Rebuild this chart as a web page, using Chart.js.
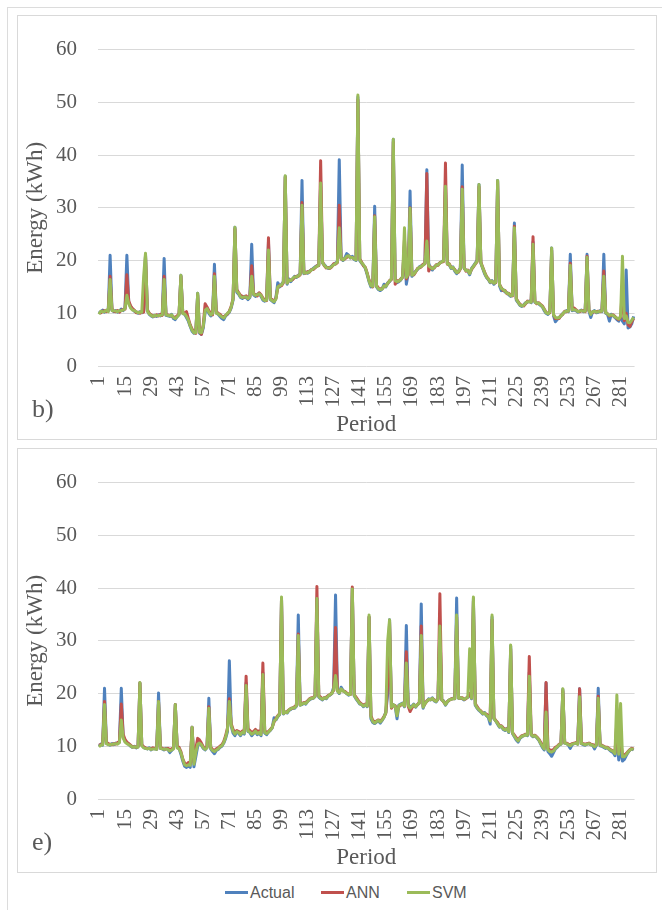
<!DOCTYPE html>
<html>
<head>
<meta charset="utf-8">
<title>Energy (kWh) per Period – b) and e)</title>
<script src="https://cdn.jsdelivr.net/npm/chart.js@4.4.0/dist/chart.umd.min.js"></script>
<style>
  body { margin: 0; background: #fff; width: 662px; height: 910px; position: relative; overflow: hidden; }
  #frame { position: absolute; left: 7px; top: 7px; width: 700px; height: 950px; border: 1px solid #dcdcdc; }
  .box { position: absolute; left: 17px; width: 638px; height: 423px; border: 1px solid #d9d9d9; background: #fff; }
  .box canvas { position: absolute; left: 0; top: 0; }
  .tag { position: absolute; left: 14px; top: 380px; font: 26px "Liberation Serif", serif; color: #595959; line-height: 1; }
  .key { position: absolute; top: 883px; font: 16px "Liberation Sans", Arial, sans-serif; color: #595959; line-height: 20px; }
  .key i { display: inline-block; width: 23px; height: 3px; vertical-align: middle; margin-right: 2px; margin-top: -2px; }
</style>
</head>
<body>
<div id="frame"></div>

<div class="box" style="top:15px">
  <canvas id="chartB" width="638" height="423"></canvas>
  <span class="tag">b)</span>
</div>

<div class="box" style="top:448px">
  <canvas id="chartE" width="638" height="423"></canvas>
  <span class="tag">e)</span>
</div>

<div class="key" style="left:225px"><i style="background:#4F81BD"></i>Actual</div>
<div class="key" style="left:321px"><i style="background:#C0504D"></i>ANN</div>
<div class="key" style="left:407px"><i style="background:#9BBB59"></i>SVM</div>

<script>
// ===================================
// DATA
// ===================================

// periods 1..288, only every 14th one is labelled on the axis
const periods = Array.from({ length: 288 }, (_, i) => i + 1);
const tickLabels = [1, 15, 29, 43, 57, 71, 85, 99, 113, 127, 141, 155, 169, 183, 197, 211, 225, 239, 253, 267, 281];

// ---- panel b) ----
const actualB = [
    10.0, 10.3, 10.6, 10.2, 10.5, 10.4, 21.0, 10.6, 10.3, 10.5, 10.2, 10.4, 10.8, 10.5, 11.0, 21.0, 12.0, 11.2, 10.8, 10.4, 10.2, 10.0, 10.3, 10.1,
    10.4, 21.2, 10.5, 9.8, 9.5, 9.3, 9.6, 9.4, 9.7, 9.5, 9.8, 20.4, 9.6, 9.5, 9.4, 9.8, 9.0, 8.8, 9.4, 9.7, 17.2, 10.0, 9.8, 9.2,
    8.5, 7.5, 6.6, 6.2, 6.4, 13.8, 6.2, 6.0, 7.2, 10.2, 10.8, 10.0, 9.5, 10.0, 19.3, 10.1, 9.8, 9.4, 9.0, 8.8, 9.5, 9.8, 10.2, 11.0,
    12.5, 26.3, 14.0, 13.6, 13.0, 12.8, 13.2, 13.0, 12.6, 13.0, 23.1, 13.5, 13.2, 13.6, 13.8, 13.2, 12.5, 12.3, 12.6, 23.5, 12.6, 12.3, 12.0, 13.0,
    15.8, 15.0, 15.5, 16.0, 36.0, 15.5, 16.5, 16.0, 16.5, 17.0, 16.8, 17.2, 17.5, 35.2, 17.5, 17.8, 17.6, 18.0, 18.2, 18.5, 18.8, 19.0, 19.2, 35.0,
    19.5, 19.2, 18.8, 18.5, 18.7, 19.0, 19.3, 19.5, 19.8, 39.1, 20.5, 20.0, 20.5, 21.3, 21.0, 20.5, 20.8, 20.2, 20.0, 51.0, 20.0, 19.5, 19.1, 18.5,
    17.3, 16.0, 15.0, 15.2, 30.3, 15.0, 14.5, 14.3, 14.6, 15.5, 15.0, 15.8, 16.0, 16.5, 43.0, 16.5, 15.8, 16.0, 16.3, 17.0, 23.0, 15.5, 17.5, 33.2,
    17.0, 17.5, 18.0, 18.3, 18.8, 19.0, 19.2, 19.5, 37.2, 19.5, 18.5, 18.2, 18.8, 19.0, 19.3, 19.5, 19.8, 20.0, 34.5, 19.5, 19.2, 18.5, 18.8, 18.0,
    17.5, 18.0, 18.6, 38.1, 18.5, 18.2, 18.0, 17.3, 18.5, 19.0, 19.5, 20.1, 34.4, 19.5, 18.5, 17.5, 16.8, 16.4, 15.8, 16.2, 15.5, 16.0, 35.2, 15.2,
    14.3, 14.5, 14.0, 13.9, 13.5, 13.2, 13.5, 27.1, 12.5, 12.0, 11.5, 11.3, 11.6, 12.0, 12.1, 12.3, 12.0, 23.5, 12.1, 12.0, 11.8, 11.5, 11.2, 10.5,
    10.0, 9.8, 10.3, 22.4, 9.5, 8.4, 8.8, 9.2, 9.5, 10.0, 10.2, 10.5, 10.3, 21.2, 10.5, 10.6, 10.5, 10.2, 10.4, 10.6, 10.3, 10.5, 21.2, 10.4,
    9.2, 10.3, 10.5, 10.1, 10.2, 10.5, 10.3, 21.2, 10.0, 9.8, 8.5, 9.8, 9.5, 9.2, 8.8, 8.5, 9.5, 8.5, 8.0, 18.2, 7.2, 7.4, 8.0, 9.4
];
const annB = [
    10.2, 10.1, 10.4, 10.5, 10.3, 10.6, 17.0, 10.8, 10.4, 10.3, 10.5, 10.2, 10.6, 10.7, 10.8, 17.3, 12.3, 11.4, 10.9, 10.6, 10.1, 10.2, 10.0, 10.3,
    10.2, 21.0, 10.7, 10.0, 9.7, 9.5, 9.5, 9.7, 9.5, 9.8, 9.6, 17.0, 9.8, 9.7, 9.6, 9.5, 9.3, 9.2, 9.5, 9.9, 17.0, 10.1, 10.0, 10.3,
    9.0, 7.8, 7.0, 6.5, 6.2, 13.5, 6.5, 6.0, 7.8, 11.8, 11.2, 10.5, 10.0, 9.7, 17.5, 10.3, 10.0, 9.8, 9.4, 9.3, 9.6, 9.9, 10.4, 11.3,
    12.8, 26.0, 14.5, 13.9, 13.4, 13.2, 13.0, 13.3, 12.9, 13.2, 19.0, 13.8, 13.5, 13.3, 13.9, 13.5, 12.9, 12.5, 12.4, 24.3, 12.8, 12.6, 12.3, 12.8,
    14.8, 15.3, 15.2, 15.8, 35.8, 15.8, 16.2, 16.3, 16.4, 16.8, 17.0, 17.0, 17.3, 31.0, 17.8, 17.6, 17.9, 17.8, 18.3, 18.3, 18.6, 19.0, 19.0, 38.9,
    19.8, 19.0, 18.6, 18.7, 18.5, 18.8, 19.4, 19.3, 19.6, 30.5, 20.3, 20.2, 20.3, 20.6, 20.8, 20.6, 20.5, 20.4, 20.2, 50.5, 20.3, 19.7, 19.0, 18.7,
    17.6, 16.3, 15.4, 15.0, 28.5, 15.3, 14.8, 14.6, 14.7, 15.0, 15.3, 15.6, 16.2, 16.4, 42.5, 15.5, 16.2, 16.1, 16.5, 16.8, 24.0, 16.5, 17.3, 30.0,
    17.3, 17.3, 17.8, 18.5, 18.6, 18.8, 19.3, 19.4, 36.5, 18.0, 18.8, 18.5, 18.6, 19.2, 19.1, 19.6, 19.7, 19.8, 38.5, 19.3, 19.4, 18.7, 18.6, 18.3,
    17.8, 17.8, 18.4, 34.0, 18.7, 18.0, 18.2, 17.6, 18.3, 18.8, 19.3, 19.8, 34.0, 19.7, 18.7, 17.8, 17.0, 16.5, 16.0, 16.0, 15.8, 15.8, 35.0, 15.5,
    14.8, 14.3, 14.3, 13.7, 13.8, 13.4, 13.3, 26.5, 12.8, 12.2, 11.7, 11.5, 11.4, 11.8, 12.3, 12.2, 12.2, 24.5, 12.3, 11.8, 12.0, 11.7, 11.4, 10.8,
    10.2, 10.0, 10.1, 22.0, 9.8, 9.0, 9.0, 9.0, 9.6, 9.8, 10.4, 10.3, 10.5, 19.5, 10.7, 11.0, 10.7, 10.4, 10.3, 10.5, 10.5, 10.3, 20.8, 10.6,
    10.0, 10.2, 10.3, 10.3, 10.4, 10.3, 10.5, 18.0, 10.2, 9.9, 9.5, 9.6, 9.7, 9.4, 9.0, 8.8, 9.2, 15.0, 8.6, 10.0, 7.8, 7.5, 8.4, 9.0
];
const svmB = [
    9.8, 10.4, 10.3, 10.3, 10.6, 10.3, 16.4, 10.5, 10.5, 10.4, 10.3, 10.5, 10.5, 10.6, 10.9, 13.4, 11.8, 11.0, 10.6, 10.5, 10.3, 10.1, 10.2, 10.2,
    17.0, 21.4, 10.4, 9.9, 9.6, 9.4, 9.6, 9.5, 9.6, 9.6, 9.7, 16.4, 9.7, 9.6, 9.5, 9.7, 9.2, 9.0, 9.3, 9.8, 17.2, 9.9, 9.9, 9.4,
    8.7, 7.6, 6.8, 6.3, 6.3, 13.8, 6.4, 6.3, 7.5, 10.6, 10.9, 10.2, 9.7, 9.9, 17.0, 10.0, 9.9, 9.6, 9.3, 9.1, 9.6, 10.0, 10.3, 11.2,
    12.7, 26.3, 14.2, 13.8, 13.1, 13.0, 13.1, 13.1, 12.8, 13.1, 17.0, 13.6, 13.4, 13.5, 13.7, 13.4, 12.7, 12.4, 12.5, 22.0, 12.7, 12.4, 12.2, 12.7,
    15.0, 15.2, 15.4, 15.9, 36.1, 15.7, 16.3, 16.2, 16.6, 16.9, 16.9, 17.1, 17.4, 30.5, 17.6, 17.7, 17.7, 17.9, 18.2, 18.4, 18.7, 18.9, 19.1, 34.7,
    19.6, 19.1, 18.7, 18.6, 18.6, 18.9, 19.2, 19.4, 19.7, 26.2, 20.4, 20.1, 20.4, 20.8, 20.9, 20.5, 20.6, 20.3, 20.1, 51.4, 20.1, 19.6, 19.2, 18.6,
    17.5, 16.1, 15.2, 15.1, 28.3, 15.1, 14.6, 14.5, 14.6, 15.2, 15.1, 15.7, 16.1, 16.5, 43.0, 16.2, 16.0, 16.1, 16.4, 16.9, 26.2, 16.8, 17.4, 29.9,
    17.2, 17.4, 17.9, 18.4, 18.7, 18.9, 19.1, 19.5, 23.7, 19.0, 18.7, 18.4, 18.7, 19.1, 19.2, 19.5, 19.8, 19.9, 34.1, 19.4, 19.3, 18.6, 18.7, 18.2,
    17.7, 17.9, 18.5, 33.5, 18.6, 18.1, 18.1, 17.5, 18.4, 18.9, 19.4, 19.9, 34.4, 19.6, 18.6, 17.7, 16.9, 16.5, 15.9, 16.1, 15.7, 15.9, 35.2, 15.4,
    14.7, 14.5, 14.2, 13.8, 13.7, 13.3, 13.4, 26.2, 12.7, 12.1, 11.6, 11.4, 11.5, 11.9, 12.2, 12.2, 12.1, 23.1, 12.2, 11.9, 11.9, 11.6, 11.3, 10.7,
    10.1, 9.9, 10.2, 22.4, 9.7, 9.2, 9.1, 9.2, 9.5, 9.9, 10.3, 10.4, 10.4, 19.1, 10.6, 10.7, 10.6, 10.3, 10.4, 10.5, 10.4, 10.4, 20.6, 10.5,
    9.8, 10.3, 10.4, 10.2, 10.3, 10.4, 10.4, 17.0, 10.1, 9.9, 9.6, 9.7, 9.6, 9.3, 9.1, 8.9, 9.4, 20.8, 9.0, 9.5, 8.3, 8.2, 8.7, 9.2
];

// ---- panel e) ----
const actualE = [
    10.0, 10.4, 10.2, 21.0, 10.6, 10.4, 10.2, 10.5, 10.3, 10.6, 10.5, 10.8, 21.0, 11.8, 11.0, 10.6, 10.4, 10.0, 9.8, 10.0, 9.7, 9.9, 22.0, 10.2,
    9.8, 9.6, 9.5, 9.7, 9.3, 9.6, 9.5, 9.4, 20.1, 9.6, 9.5, 9.3, 9.6, 9.4, 8.8, 9.2, 9.6, 17.9, 9.8, 9.6, 8.5, 7.2, 6.2, 6.0,
    6.3, 6.0, 13.6, 6.1, 8.0, 10.0, 10.8, 10.2, 9.6, 9.3, 9.8, 19.1, 9.5, 9.0, 8.6, 9.2, 9.4, 9.8, 10.0, 10.6, 11.5, 12.8, 26.2, 13.8,
    12.5, 12.0, 12.8, 12.4, 12.0, 12.6, 12.3, 22.0, 12.8, 12.6, 12.0, 12.4, 12.8, 12.2, 12.5, 12.0, 24.0, 12.5, 12.2, 12.7, 13.0, 13.5, 15.4, 15.0,
    15.6, 16.0, 38.0, 16.1, 16.5, 16.3, 16.8, 17.0, 17.3, 17.2, 17.6, 34.9, 17.8, 17.9, 18.2, 18.0, 18.5, 18.8, 19.0, 19.1, 19.4, 38.0, 19.3, 19.0,
    18.8, 19.2, 19.0, 19.5, 19.7, 20.0, 21.2, 38.7, 20.5, 20.0, 21.2, 20.6, 20.3, 20.0, 19.7, 19.9, 39.8, 19.6, 19.0, 18.5, 18.0, 17.9, 17.5, 17.9,
    17.5, 34.5, 15.2, 14.5, 14.3, 14.6, 14.8, 14.4, 14.9, 15.5, 16.5, 20.0, 34.0, 17.5, 17.9, 17.6, 15.2, 17.8, 18.0, 18.2, 17.5, 32.9, 17.9, 17.5,
    17.6, 18.0, 17.4, 17.9, 18.2, 37.0, 17.2, 18.2, 18.5, 19.0, 18.8, 19.2, 18.6, 18.4, 19.0, 33.0, 18.8, 18.6, 17.8, 18.4, 18.8, 18.9, 19.1, 19.0,
    38.1, 19.1, 19.2, 19.0, 18.8, 19.1, 19.3, 20.0, 19.0, 38.0, 17.8, 17.2, 16.8, 16.5, 16.1, 16.4, 15.8, 15.5, 14.2, 34.5, 15.2, 14.8, 14.2, 13.6,
    13.8, 13.2, 13.0, 13.4, 12.6, 29.0, 12.4, 11.8, 11.2, 10.8, 11.5, 11.8, 12.0, 12.2, 12.0, 24.0, 12.1, 11.8, 12.0, 11.6, 11.2, 10.5, 9.8, 9.3,
    22.0, 9.0, 8.6, 8.1, 8.8, 9.5, 9.8, 10.2, 10.4, 20.8, 10.6, 10.5, 10.2, 9.6, 10.3, 10.5, 10.6, 10.4, 20.9, 10.5, 10.3, 10.2, 10.4, 10.5,
    10.3, 10.2, 9.5, 10.2, 21.0, 10.1, 10.0, 9.8, 9.6, 9.7, 9.3, 9.0, 8.8, 8.2, 12.0, 7.4, 10.0, 7.2, 7.5, 8.2, 8.8, 9.3, 9.5, 9.3
];
const annE = [
    10.2, 10.3, 10.4, 18.5, 10.8, 10.5, 10.4, 10.3, 10.5, 10.4, 10.7, 10.9, 18.0, 12.3, 11.3, 10.8, 10.5, 10.2, 9.9, 9.9, 9.8, 10.0, 22.0, 10.3,
    9.9, 9.7, 9.6, 9.6, 9.5, 9.7, 9.6, 9.5, 18.5, 9.8, 9.6, 9.5, 9.5, 9.6, 9.4, 9.5, 9.7, 17.9, 10.0, 9.8, 9.0, 7.6, 6.8, 6.5,
    6.9, 6.7, 13.6, 7.0, 9.5, 11.5, 11.2, 10.6, 9.9, 9.6, 9.9, 17.5, 9.8, 9.4, 9.2, 9.5, 9.7, 10.0, 10.3, 10.9, 12.0, 13.5, 19.0, 14.3,
    13.2, 12.6, 13.0, 12.8, 12.5, 12.9, 12.8, 23.3, 13.3, 13.0, 12.6, 12.8, 13.2, 12.8, 12.9, 12.5, 25.8, 12.9, 12.6, 12.8, 13.2, 13.6, 14.6, 15.3,
    15.8, 16.2, 38.0, 16.3, 16.4, 16.6, 16.9, 17.2, 17.2, 17.5, 17.8, 31.3, 17.9, 18.1, 18.3, 18.3, 18.6, 19.0, 19.2, 19.2, 19.6, 40.3, 19.6, 19.3,
    19.0, 19.2, 19.3, 19.6, 19.8, 20.1, 20.6, 32.5, 20.6, 20.2, 20.7, 20.5, 20.4, 20.1, 19.9, 19.8, 40.2, 19.8, 19.3, 18.8, 18.3, 18.0, 17.8, 18.0,
    17.7, 34.5, 15.8, 14.9, 14.6, 14.8, 15.0, 14.8, 15.1, 15.6, 16.3, 22.0, 33.5, 17.2, 17.8, 17.7, 16.6, 17.5, 17.8, 18.0, 17.7, 27.9, 17.6, 16.6,
    17.3, 17.8, 17.6, 17.9, 18.3, 32.8, 17.6, 18.0, 18.6, 18.8, 18.9, 19.0, 18.8, 18.6, 18.9, 38.9, 18.9, 18.4, 18.0, 18.5, 18.7, 19.0, 19.0, 19.1,
    34.5, 19.2, 19.1, 19.2, 18.9, 19.0, 19.4, 20.0, 19.2, 37.5, 18.1, 17.5, 17.0, 16.7, 16.3, 16.2, 16.1, 15.8, 15.2, 34.0, 15.4, 14.9, 14.5, 13.9,
    13.9, 13.5, 13.2, 13.3, 12.9, 28.5, 12.6, 12.1, 11.6, 11.2, 11.7, 12.0, 12.1, 12.3, 12.2, 27.0, 12.3, 12.0, 12.1, 11.8, 11.4, 10.8, 10.2, 9.8,
    22.1, 9.6, 9.3, 9.2, 9.4, 9.8, 10.0, 10.4, 10.5, 20.5, 10.7, 10.6, 10.4, 10.3, 10.5, 10.6, 10.7, 10.5, 20.9, 10.6, 10.5, 10.4, 10.5, 10.6,
    10.4, 10.3, 10.2, 10.3, 19.5, 10.3, 10.2, 10.0, 9.8, 9.8, 9.5, 9.3, 9.1, 8.8, 14.8, 9.0, 11.0, 8.5, 8.3, 8.6, 9.0, 9.4, 9.6, 9.5
];
const svmE = [
    9.9, 10.2, 10.3, 17.9, 10.5, 10.3, 10.3, 10.4, 10.4, 10.5, 10.4, 10.7, 15.0, 11.6, 10.8, 10.5, 10.3, 10.1, 9.8, 9.9, 9.8, 9.8, 22.1, 10.1,
    9.7, 9.6, 9.5, 9.6, 9.4, 9.5, 9.5, 9.4, 18.5, 9.6, 9.5, 9.4, 9.5, 9.4, 9.1, 9.3, 9.5, 17.9, 9.7, 9.5, 8.8, 7.5, 6.5, 6.3,
    6.5, 6.4, 13.6, 6.6, 8.8, 10.4, 10.6, 10.3, 9.7, 9.4, 9.7, 17.2, 9.6, 9.2, 9.0, 9.3, 9.5, 9.9, 10.1, 10.7, 11.7, 13.2, 18.5, 14.0,
    12.8, 12.3, 12.8, 12.6, 12.2, 12.7, 12.5, 21.5, 12.9, 12.7, 12.3, 12.5, 12.9, 12.4, 12.6, 12.2, 23.6, 12.6, 12.4, 12.7, 13.1, 13.5, 14.8, 15.1,
    15.7, 16.1, 38.3, 16.2, 16.5, 16.4, 16.9, 17.1, 17.3, 17.3, 17.7, 31.0, 17.8, 18.0, 18.2, 18.1, 18.5, 18.9, 19.1, 19.1, 19.5, 38.0, 19.4, 19.1,
    18.9, 19.2, 19.1, 19.5, 19.8, 20.0, 20.8, 23.4, 20.5, 20.1, 20.9, 20.5, 20.3, 20.0, 19.8, 19.8, 39.8, 19.7, 19.1, 18.6, 18.1, 17.9, 17.6, 17.9,
    17.6, 34.9, 15.5, 14.7, 14.4, 14.7, 14.9, 14.6, 15.0, 15.5, 16.4, 30.0, 34.0, 17.4, 17.9, 17.6, 15.8, 17.7, 17.9, 18.1, 17.6, 25.8, 17.8, 17.2,
    17.5, 17.9, 17.5, 17.9, 18.2, 31.0, 17.4, 18.1, 18.5, 18.9, 18.8, 19.1, 18.7, 18.5, 19.0, 32.8, 18.8, 18.5, 17.9, 18.4, 18.8, 18.9, 19.0, 19.0,
    34.9, 19.1, 19.2, 19.1, 18.9, 19.1, 19.3, 28.5, 19.1, 38.3, 17.9, 17.3, 16.9, 16.6, 16.2, 16.3, 15.9, 15.6, 14.8, 34.9, 15.3, 14.8, 14.3, 13.7,
    13.8, 13.3, 13.1, 13.3, 12.7, 29.2, 12.5, 11.9, 11.4, 11.0, 11.6, 11.9, 12.0, 12.2, 12.1, 23.3, 12.2, 11.9, 12.0, 11.7, 11.3, 10.6, 10.0, 9.5,
    16.5, 9.3, 9.0, 8.9, 9.1, 9.6, 9.9, 10.3, 10.4, 20.9, 10.6, 10.5, 10.3, 10.1, 10.4, 10.5, 10.6, 10.4, 19.4, 10.5, 10.4, 10.3, 10.4, 10.5,
    10.3, 10.2, 9.9, 10.2, 19.1, 10.2, 10.1, 9.9, 9.7, 9.7, 9.4, 9.2, 9.0, 8.6, 19.7, 8.5, 18.1, 8.0, 8.0, 8.4, 8.9, 9.3, 9.5, 9.4
];

// ===================================
// CHART SETUP
// ===================================

const TEXT = '#595959';
const SERIF = '"Liberation Serif", "Times New Roman", serif';
const COLORS = { actual: '#4F81BD', ann: '#C0504D', svm: '#9BBB59' };

function lineSet(label, data, color, order) {
    return {
        label: label,
        data: data,
        borderColor: color,
        backgroundColor: color,
        borderWidth: 3,
        pointRadius: 0,
        tension: 0,
        borderJoinStyle: 'round',
        order: order // svm drawn last (on top), like Excel
    };
}

function makeChart(id, actual, ann, svm) {
    const ctx = document.getElementById(id).getContext('2d');
    return new Chart(ctx, {
        type: 'line',
        data: {
            labels: periods,
            datasets: [
                lineSet('Actual', actual, COLORS.actual, 3),
                lineSet('ANN', ann, COLORS.ann, 2),
                lineSet('SVM', svm, COLORS.svm, 1)
            ]
        },
        options: {
            responsive: false,
            animation: false,
            layout: { padding: { left: 0, right: 8, top: 23, bottom: 0 } },
            plugins: {
                legend: { display: false },
                tooltip: { enabled: false }
            },
            scales: {
                x: {
                    type: 'category',
                    offset: true,
                    grid: { display: false, drawTicks: false },
                    border: { display: false },
                    ticks: {
                        autoSkip: false,
                        minRotation: 90,
                        maxRotation: 90,
                        padding: 10,
                        color: TEXT,
                        font: { family: SERIF, size: 21 },
                        callback: function (value) {
                            const lab = this.getLabelForValue(value);
                            return tickLabels.includes(lab) ? String(lab) : null;
                        }
                    },
                    title: {
                        display: true,
                        text: 'Period',
                        color: TEXT,
                        font: { family: SERIF, size: 23 },
                        padding: { top: 0, bottom: 0 }
                    },
                    afterFit: (scale) => { scale.height = 73; }
                },
                y: {
                    min: 0,
                    max: 60,
                    grid: { color: '#d9d9d9', lineWidth: 1, drawTicks: false },
                    border: { display: false },
                    ticks: {
                        stepSize: 10,
                        padding: 21,
                        color: TEXT,
                        font: { family: SERIF, size: 21 }
                    },
                    title: {
                        display: true,
                        text: 'Energy (kWh)',
                        color: TEXT,
                        font: { family: SERIF, size: 23 },
                        padding: { top: 4, bottom: 0 }
                    },
                    afterFit: (scale) => { scale.width = 80; }
                }
            }
        }
    });
}

makeChart('chartB', actualB, annB, svmB);
makeChart('chartE', actualE, annE, svmE);
</script>
</body>
</html>
